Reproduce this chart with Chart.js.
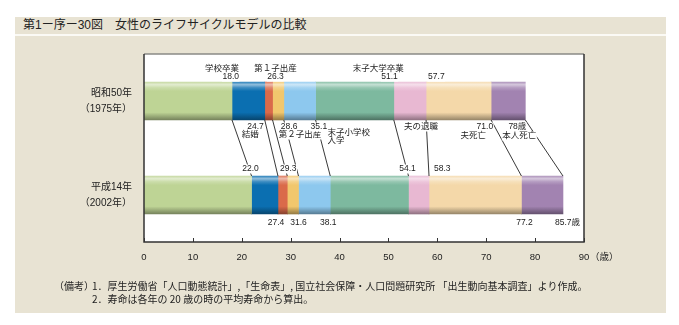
<!DOCTYPE html>
<html><head><meta charset="utf-8">
<script src="https://cdn.jsdelivr.net/npm/chart.js@4"></script>
<style>
html,body{margin:0;padding:0;background:#fff;width:679px;height:325px;overflow:hidden;}
#panel{position:absolute;left:15px;top:17px;width:651px;height:296px;background:#e8e3d3;}
#sep{position:absolute;left:15px;top:34px;width:651px;height:2px;background:#fbfaf5;}
#title{position:absolute;left:23px;top:17px;height:17px;line-height:17px;font-size:12px;font-family:'Liberation Sans','Noto Sans CJK JP',sans-serif;color:#222;white-space:nowrap;}
.fn{position:absolute;font-size:10px;font-family:'Noto Sans CJK JP',sans-serif;color:#222;white-space:nowrap;line-height:13px;}
#wrap{position:absolute;left:0;top:0;width:679px;height:325px;}
</style></head>
<body>
<div id="panel"></div>
<div id="sep"></div>
<div id="title">第1ー序ー30図　女性のライフサイクルモデルの比較</div>
<div id="wrap"><canvas id="c" width="679" height="325"></canvas></div>
<div class="fn" style="left:54px;top:279px;">（備考）</div>
<div class="fn" style="left:92px;top:279px;">1．厚生労働省「人口動態統計」,「生命表」, 国立社会保障・人口問題研究所 「出生動向基本調査」より作成。</div>
<div class="fn" style="left:92px;top:292px;">2．寿命は各年の 20 歳の時の平均寿命から算出。</div>
<script>
// ---- data ----
const categories = ['1975', '2002'];
const yearLabels = [['昭和50年', '（1975年）'], ['平成14年', '（2002年）']];
const stageNames = ['学齢期', '就業', '結婚〜第１子', '第１子〜第２子', '子育て前期', '子育て後期', '子の独立後', '夫の退職後', '本人単身'];
const events1975 = [18.0, 24.7, 26.3, 28.6, 35.1, 51.1, 57.7, 71.0, 78.0];
const events2002 = [22.0, 27.4, 29.3, 31.6, 38.1, 54.1, 58.3, 77.2, 85.7];
const eventNames = ['学校卒業', '結婚', '第１子出産', '第２子出産', '末子小学校入学', '末子大学卒業', '夫の退職', '夫死亡', '本人死亡'];
const xTicks = [0, 10, 20, 30, 40, 50, 60, 70, 80, 90];
const stageColors = ['#bed495', '#0b6fb1', '#da6a4a', '#f1c76d', '#8dc8ee', '#7db99f', '#e8b8d2', '#f4d8a9', '#a283b1'];

const FONT = "'Liberation Sans','Noto Sans CJK JP',sans-serif";
const fmt = v => v.toFixed(1);

function mix(hex, target, t) {
  const n = parseInt(hex.slice(1), 16);
  const r = (n >> 16) & 255, g = (n >> 8) & 255, b = n & 255;
  const m = c => Math.round(c + (target - c) * t);
  return `rgb(${m(r)},${m(g)},${m(b)})`;
}

const BAR_T = 38;
function gradFill(base) {
  return (ctx) => {
    const chart = ctx.chart;
    if (!chart.chartArea || ctx.dataIndex === undefined) return base;
    const yc = chart.scales.y.getPixelForValue(ctx.dataIndex);
    const top = yc - BAR_T / 2, bot = yc + BAR_T / 2;
    const g = chart.ctx.createLinearGradient(0, top, 0, bot);
    g.addColorStop(0, mix(base, 255, 0.15));
    g.addColorStop(0.07, mix(base, 255, 0.55));
    g.addColorStop(0.15, mix(base, 255, 0.2));
    g.addColorStop(0.24, base);
    g.addColorStop(0.8, base);
    g.addColorStop(1, mix(base, 0, 0.38));
    return g;
  };
}

const datasets = stageNames.map((name, i) => ({
  label: name,
  data: [
    [i === 0 ? 0 : events1975[i - 1], events1975[i]],
    [i === 0 ? 0 : events2002[i - 1], events2002[i]]
  ],
  backgroundColor: gradFill(stageColors[i]),
  borderWidth: 0,
  borderSkipped: false,
  grouped: false,
  barThickness: BAR_T
}));

// ---- annotation layout (placement only; texts/values come from arrays above) ----
const annotations = [
  { s: 0, i: 0, where: 'aboveTop', rows: [[() => eventNames[0], -13], [() => fmt(events1975[0]), -5]], align: 'right', dx: 7 },
  { s: 0, i: 2, where: 'aboveTop', rows: [[() => eventNames[2], -13], [() => fmt(events1975[2]), -5]], align: 'center', dx: 3 },
  { s: 0, i: 5, where: 'aboveTop', rows: [[() => eventNames[5], -13]], align: 'right', dx: 10 },
  { s: 0, i: 5, where: 'aboveTop', rows: [[() => fmt(events1975[5]), -5]], align: 'right', dx: 4 },
  { s: 0, i: 6, where: 'aboveTop', rows: [[() => fmt(events1975[6]), -5]], align: 'left', dx: 2 },
  { s: 0, i: 1, where: 'belowTop', rows: [[() => fmt(events1975[1]), 7]], align: 'right', dx: -1 },
  { s: 0, i: 1, where: 'belowTop', rows: [[() => eventNames[1], 15]], align: 'right', dx: -6 },
  { s: 0, i: 3, where: 'belowTop', rows: [[() => fmt(events1975[3]), 7]], align: 'left', dx: -3 },
  { s: 0, i: 3, where: 'belowTop', rows: [[() => eventNames[3], 15]], align: 'left', dx: -5 },
  { s: 0, i: 4, where: 'belowTop', rows: [[() => fmt(events1975[4]), 7]], align: 'left', dx: -5 },
  { s: 0, i: 4, where: 'belowTop', rows: [[() => eventNames[4].slice(0, 5), 13], [() => eventNames[4].slice(5), 21]], align: 'left', dx: 12 },
  { s: 0, i: 6, where: 'belowTop', rows: [[() => eventNames[6], 7]], align: 'center', dx: -5 },
  { s: 0, i: 7, where: 'belowTop', rows: [[() => fmt(events1975[7]), 7]], align: 'right', dx: 2 },
  { s: 0, i: 7, where: 'belowTop', rows: [[() => eventNames[7], 16]], align: 'right', dx: -5 },
  { s: 0, i: 8, where: 'belowTop', rows: [[() => events1975[8].toFixed(0) + '歳', 7]], align: 'right', dx: 1 },
  { s: 0, i: 8, where: 'belowTop', rows: [[() => eventNames[8], 16]], align: 'center', dx: -6 },
  { s: 1, i: 0, where: 'aboveBot', rows: [[() => fmt(events2002[0]), -7]], align: 'center', dx: -1 },
  { s: 1, i: 2, where: 'aboveBot', rows: [[() => fmt(events2002[2]), -7]], align: 'center', dx: 1 },
  { s: 1, i: 5, where: 'aboveBot', rows: [[() => fmt(events2002[5]), -7]], align: 'center', dx: -1 },
  { s: 1, i: 6, where: 'aboveBot', rows: [[() => fmt(events2002[6]), -7]], align: 'left', dx: 5 },
  { s: 1, i: 1, where: 'belowBot', rows: [[() => fmt(events2002[1]), 9]], align: 'center', dx: -2 },
  { s: 1, i: 3, where: 'belowBot', rows: [[() => fmt(events2002[3]), 9]], align: 'center', dx: 0 },
  { s: 1, i: 4, where: 'belowBot', rows: [[() => fmt(events2002[4]), 9]], align: 'center', dx: -2 },
  { s: 1, i: 7, where: 'belowBot', rows: [[() => fmt(events2002[7]), 9]], align: 'center', dx: 3 },
  { s: 1, i: 8, where: 'belowBot', rows: [[() => fmt(events2002[8]) + '歳', 9]], align: 'left', dx: -8 }
];

const lifePlugin = {
  id: 'life',
  beforeDraw(chart) {
    const { ctx, chartArea: a } = chart;
    ctx.save();
    ctx.fillStyle = '#ffffff';
    ctx.fillRect(a.left, a.top, a.right - a.left, a.bottom - a.top);
    ctx.restore();
  },
  afterDatasetsDraw(chart) {
    const { ctx } = chart;
    const xs = chart.scales.x, ys = chart.scales.y;
    const yc0 = ys.getPixelForValue(0), yc1 = ys.getPixelForValue(1);
    const edges = {
      aboveTop: yc0 - BAR_T / 2, belowTop: yc0 + BAR_T / 2,
      aboveBot: yc1 - BAR_T / 2, belowBot: yc1 + BAR_T / 2
    };
    ctx.save();
    ctx.strokeStyle = '#222';
    ctx.lineWidth = 0.9;
    events1975.forEach((v, i) => {
      ctx.beginPath();
      ctx.moveTo(xs.getPixelForValue(v), edges.belowTop);
      ctx.lineTo(xs.getPixelForValue(events2002[i]), edges.aboveBot);
      ctx.stroke();
    });
    ctx.font = `8.5px ${FONT}`;
    ctx.textBaseline = 'middle';
    ctx.textAlign = 'left';
    annotations.forEach(an => {
      const v = (an.s === 0 ? events1975 : events2002)[an.i];
      const x = xs.getPixelForValue(v) + an.dx;
      an.rows.forEach(([fn, dy]) => {
        const t = fn();
        const w = ctx.measureText(t).width;
        const tx = an.align === 'right' ? x - w : an.align === 'center' ? x - w / 2 : x;
        ctx.fillStyle = '#ffffff';
        ctx.fillRect(tx - 0.5, edges[an.where] + dy - 4.5, w + 1, 9);
        ctx.fillStyle = '#222';
        ctx.fillText(t, tx, edges[an.where] + dy);
      });
    });
    ctx.restore();
  },
  afterDraw(chart) {
    const { ctx, chartArea: a } = chart;
    const xs = chart.scales.x;
    ctx.save();
    ctx.lineWidth = 1.5;
    ctx.strokeStyle = '#8a8a86';
    ctx.beginPath(); ctx.moveTo(a.left, a.top); ctx.lineTo(a.right, a.top); ctx.stroke();
    ctx.strokeStyle = '#333';
    ctx.beginPath(); ctx.moveTo(a.left, a.top); ctx.lineTo(a.left, a.bottom); ctx.lineTo(a.right, a.bottom); ctx.lineTo(a.right, a.top); ctx.stroke();
    ctx.lineWidth = 1;
    xTicks.forEach(t => {
      const x = Math.round(xs.getPixelForValue(t)) + 0.5;
      ctx.beginPath(); ctx.moveTo(x, a.bottom); ctx.lineTo(x, a.bottom - 4); ctx.stroke();
    });
    ctx.fillStyle = '#222';
    ctx.font = `9.5px ${FONT}`;
    ctx.textBaseline = 'middle';
    ctx.textAlign = 'left';
    ctx.fillText('（歳）', xs.getPixelForValue(90) + 6, a.bottom + 15);
    ctx.restore();
  }
};

new Chart(document.getElementById('c'), {
  type: 'bar',
  data: { labels: categories, datasets },
  options: {
    indexAxis: 'y',
    responsive: false,
    animation: false,
    layout: { padding: { top: 54, right: 95, left: 0, bottom: 0 } },
    plugins: { legend: { display: false }, tooltip: { enabled: false }, title: { display: false } },
    scales: {
      x: {
        type: 'linear', min: 0, max: 90,
        afterBuildTicks: s => { s.ticks = xTicks.map(v => ({ value: v })); },
        grid: { display: false, drawTicks: false },
        border: { display: false },
        ticks: { color: '#222', font: { size: 9.5, family: FONT }, padding: 10, maxRotation: 0 },
        afterFit: s => { s.height = 83; }
      },
      y: {
        type: 'category',
        offset: true,
        grid: { display: false, drawTicks: false },
        border: { display: false },
        ticks: {
          color: '#222', padding: 12,
          font: { size: 10, family: FONT, lineHeight: 1.55 },
          callback: (v, i) => yearLabels[i]
        },
        afterFit: s => { s.width = 144; }
      }
    }
  },
  plugins: [lifePlugin]
});
</script>
</body></html>
